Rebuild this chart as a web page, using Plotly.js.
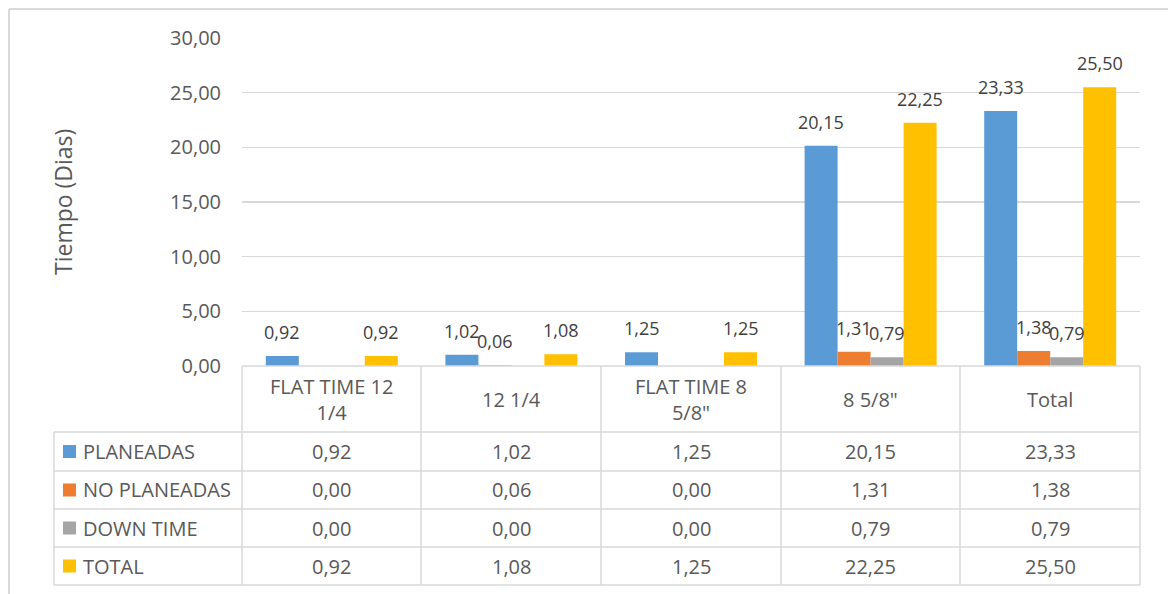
<!DOCTYPE html>
<html>
<head>
<meta charset="utf-8">
<script src="https://cdn.plot.ly/plotly-3.0.1.min.js"></script>
<style>
  html, body { margin: 0; padding: 0; background: #ffffff; }
  #chart { width: 1168px; height: 594px; }
</style>
</head>
<body>
<div id="chart"></div>
<script>
// Tiempo por fase (días)
const categories = ['FLAT TIME 12 1/4', '12 1/4', 'FLAT TIME 8 5/8"', '8 5/8"', 'Total'];
const headerLabels = ['FLAT TIME 12<br>1/4', '12 1/4', 'FLAT TIME 8<br>5/8"', '8 5/8"', 'Total'];
const seriesNames = ['PLANEADAS', 'NO PLANEADAS', 'DOWN TIME', 'TOTAL'];
const planeadas = [0.92, 1.02, 1.25, 20.15, 23.33];
const noPlaneadas = [0.00, 0.06, 0.00, 1.31, 1.38];
const downTime = [0.00, 0.00, 0.00, 0.79, 0.79];
const total = [0.92, 1.08, 1.25, 22.25, 25.50];
const yTicks = [0, 5, 10, 15, 20, 25, 30];

const seriesValues = [planeadas, noPlaneadas, downTime, total];
const colors = ['#5B9BD5', '#ED7D31', '#A5A5A5', '#FFC000'];

// Page geometry
const W = 1168, H = 594;
const M = { l: 242, r: 28, t: 38, b: 228 };
const plotW = W - M.l - M.r, plotH = H - M.t - M.b;
const px = v => (v - M.l) / plotW;          // pixel x -> paper x
const py = v => (H - M.b - v) / plotH;      // pixel y -> paper y

const BARGAP = 0.265;
const fmt = v => v.toFixed(2).replace('.', ',');
const gridColor = '#d9d9d9';
const textColor = '#595959';
const FONT = 'Open Sans, Noto Sans, sans-serif';

const traces = seriesValues.map((vals, i) => ({
  type: 'bar',
  name: seriesNames[i],
  x: categories.map((_, k) => k),
  y: vals,
  marker: { color: colors[i] },
  hoverinfo: 'skip'
}));

const annotations = [];
const shapes = [];

// Value labels above bars (zero values are not labelled)
const nS = seriesValues.length;
const barW = (1 - BARGAP) / nS;
seriesValues.forEach((vals, i) => {
  vals.forEach((v, k) => {
    if (v === 0) return;
    annotations.push({
      x: k - (1 - BARGAP) / 2 + barW * (i + 0.5), y: v,
      xref: 'x', yref: 'y', text: fmt(v), showarrow: false,
      yanchor: 'bottom', yshift: 10,
      font: { family: FONT, size: 18, color: '#404040' }
    });
  });
});

// Y-axis title
annotations.push({
  x: px(63), y: 0.5, xref: 'paper', yref: 'paper', text: 'Tiempo (Dias)',
  textangle: -90, showarrow: false, xanchor: 'center', yanchor: 'middle',
  font: { family: FONT, size: 23, color: textColor }
});

// Data table geometry
const rowLines = [366, 432, 471, 509, 547, 585];
const colLines = [242, 421, 601, 781, 960, 1140];
const tableLeft = 54;

const line = (x0, y0, x1, y1, w) => shapes.push({
  type: 'line', xref: 'paper', yref: 'paper',
  x0: px(x0), y0: py(y0), x1: px(x1), y1: py(y1),
  line: { color: gridColor, width: w || 1.5 }
});

// Chart frame
line(9, 9, W + 5, 9, 2);
line(9, 9, 9, H + 5, 2);

// Table grid
rowLines.forEach((y, r) => line(r === 0 ? colLines[0] : tableLeft, y, colLines[colLines.length - 1], y));
colLines.forEach(x => line(x, rowLines[0], x, rowLines[rowLines.length - 1]));
line(tableLeft, rowLines[1], tableLeft, rowLines[rowLines.length - 1]);

// Header row: category names
headerLabels.forEach((lab, k) => {
  annotations.push({
    x: k, y: py((rowLines[0] + rowLines[1]) / 2), xref: 'x', yref: 'paper',
    text: lab, showarrow: false, xanchor: 'center', yanchor: 'middle',
    font: { family: FONT, size: 20, color: textColor }
  });
});

// Series rows: legend key, name, values
seriesValues.forEach((vals, i) => {
  const cy = (rowLines[i + 1] + rowLines[i + 2]) / 2;
  shapes.push({
    type: 'rect', xref: 'paper', yref: 'paper',
    x0: px(63), x1: px(76), y0: py(cy - 6.5), y1: py(cy + 6.5),
    fillcolor: colors[i], line: { width: 0 }
  });
  annotations.push({
    x: px(81), y: py(cy), xref: 'paper', yref: 'paper', text: seriesNames[i],
    showarrow: false, xanchor: 'left', yanchor: 'middle',
    font: { family: FONT, size: 20, color: textColor }
  });
  vals.forEach((v, k) => {
    annotations.push({
      x: k, y: py(cy), xref: 'x', yref: 'paper', text: fmt(v),
      showarrow: false, xanchor: 'center', yanchor: 'middle',
      font: { family: FONT, size: 20, color: textColor }
    });
  });
});

const layout = {
  width: W, height: H,
  margin: M,
  paper_bgcolor: '#ffffff', plot_bgcolor: '#ffffff',
  barmode: 'group', bargap: BARGAP, bargroupgap: 0,
  showlegend: false,
  separators: ',.',
  font: { family: FONT, color: textColor },
  xaxis: {
    type: 'linear', range: [-0.5, categories.length - 0.5],
    showticklabels: false, showgrid: false, zeroline: false, showline: false, fixedrange: true
  },
  yaxis: {
    range: [0, 30], tickvals: yTicks, ticktext: yTicks.map(fmt),
    showgrid: true, gridcolor: gridColor, gridwidth: 1.5,
    zeroline: false, showline: false, ticks: '',
    ticklabelstandoff: 20,
    tickfont: { family: FONT, size: 20, color: textColor }, fixedrange: true
  },
  annotations: annotations,
  shapes: shapes
};

Plotly.newPlot('chart', traces, layout, { displayModeBar: false, staticPlot: true });
</script>
</body>
</html>
